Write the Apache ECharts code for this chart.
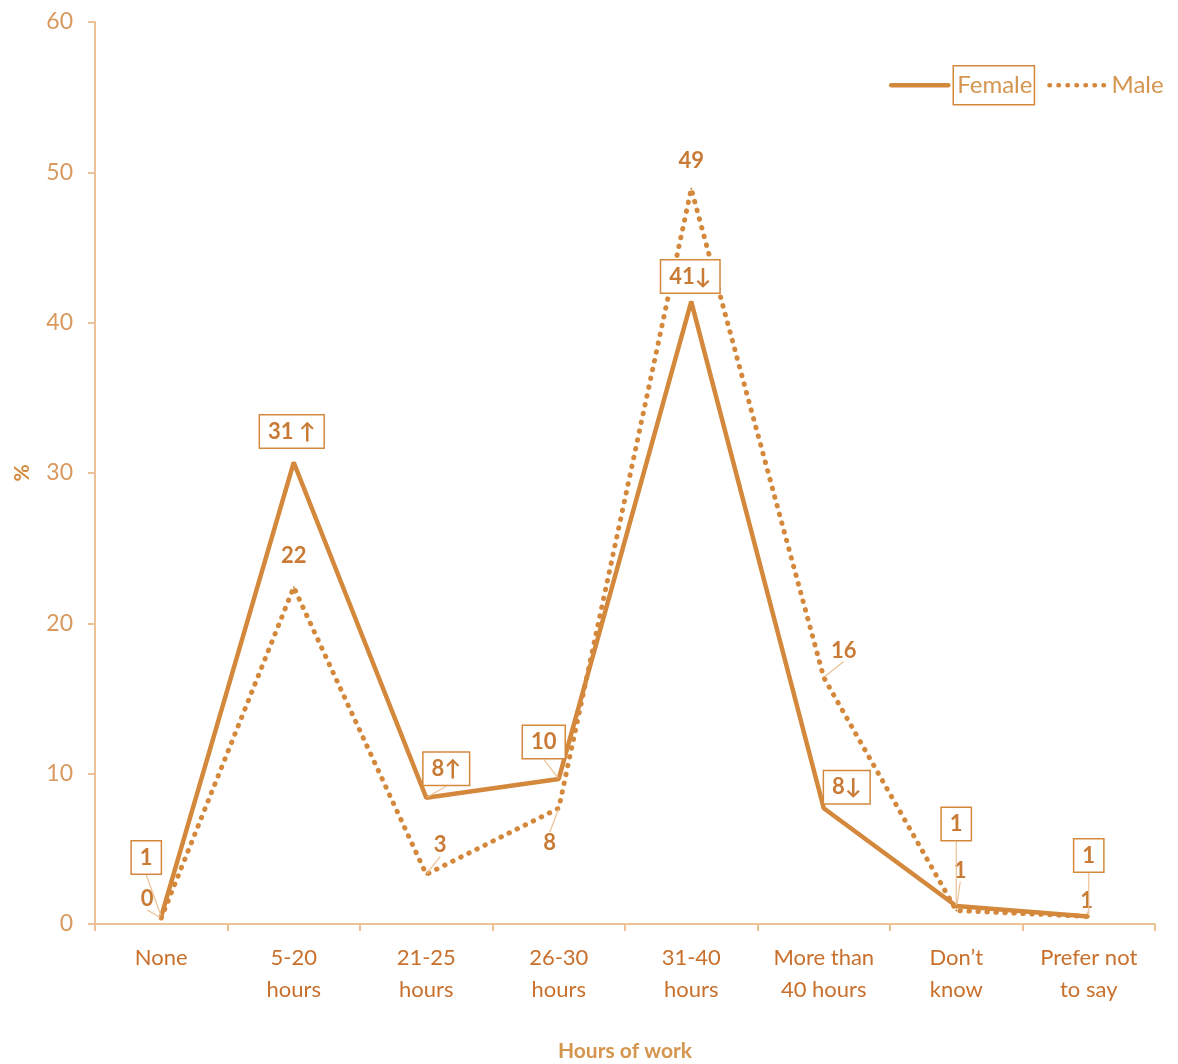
<!DOCTYPE html>
<html><head><meta charset="utf-8">
<script src="https://cdn.jsdelivr.net/npm/echarts@6/dist/echarts.min.js"></script>
<style>html,body{margin:0;padding:0;background:#fff}#c{width:1178px;height:1064px}</style>
</head><body><div id="c"></div>
<script>
const categories = ['None','5-20\nhours','21-25\nhours','26-30\nhours','31-40\nhours','More than\n40 hours','Don\u2019t\nknow','Prefer not\nto say'];
const female = [0.5, 30.7, 8.4, 9.65, 41.4, 7.7, 1.2, 0.5];
const male = [0.4, 22.4, 3.3, 7.7, 48.9, 16.4, 0.9, 0.5];
const femaleLabels = ['1','31 \u2191','8\u2191','10','41\u2193','8\u2193','1','1'];
const maleLabels = ['0','22','3','8','49','16','1','1'];
const yTicks = [0,10,20,30,40,50,60];

const LINE = '#D4883C';
const TXT = '#C97A35';
const AX = '#EBC196';

// label offsets and leader-line visibility (styling only)
const femaleOff = [[-15,-59],[-2,-31],[20,-29],[-15,-37],[-1,-25],[23,-21],[0,-82],[0,-61]];
const maleOff = [[-14,-19],[0,-31],[14,-29],[-9,35],[0,-28],[20,-27],[4,-40],[-2,-16]];
const femaleLead = [true,false,true,true,false,false,true,true];
const maleLead = [true,false,true,true,false,true,true,true];

const chart = echarts.init(document.getElementById('c'));
chart.setOption({
  animation: false,
  grid: {left: 95, right: 23, top: 22, bottom: 140, containLabel: false, outerBoundsMode: 'none'},
  legend: {
    left: 884, top: 60, itemWidth: 57, itemHeight: 14, itemGap: 12,
    itemStyle: {opacity: 0},
    lineStyle: {width: 4.5, cap: 'round'},
    textStyle: {color: '#D4954F', fontSize: 24, fontFamily: 'Lato'},
    data: [
      {name: 'Female', textStyle: {borderColor: LINE, borderWidth: 1.5, padding: [8, 2, 7, 4]}},
      {name: 'Male'}
    ]
  },
  xAxis: {
    type: 'category', data: categories, boundaryGap: true,
    name: 'Hours of work', nameLocation: 'middle', nameGap: 117,
    nameTextStyle: {color: '#D4954F', fontSize: 21, fontWeight: 'bold', fontFamily: 'Lato'},
    axisLine: {lineStyle: {color: AX, width: 2}},
    axisTick: {show: true, length: 7, lineStyle: {color: AX, width: 2}},
    axisLabel: {color: '#C8702C', fontSize: 22, lineHeight: 32, margin: 18, fontFamily: 'Lato', interval: 0}
  },
  yAxis: {
    type: 'value', min: 0, max: 60, interval: 10,
    name: '%', nameLocation: 'middle', nameGap: 62, nameRotate: 90,
    nameTextStyle: {color: LINE, fontSize: 21, fontWeight: 'bold', fontFamily: 'Lato'},
    axisLine: {show: true, lineStyle: {color: AX, width: 2}},
    axisTick: {show: true, length: 7, lineStyle: {color: AX, width: 2}},
    splitLine: {show: false},
    axisLabel: {color: '#D9995E', fontSize: 23, margin: 22, fontFamily: 'Lato',
      formatter: v => yTicks.indexOf(v) >= 0 ? String(v) : ''}
  },
  series: [
    {
      name: 'Female', type: 'line',
      data: female.map((v, i) => ({value: v, labelLine: {show: femaleLead[i]}})),
      symbol: 'circle', symbolSize: 2, itemStyle: {color: LINE},
      lineStyle: {color: LINE, width: 4.5},
      label: {show: true, position: 'inside', color: TXT, fontSize: 22, fontWeight: 'bold', fontFamily: 'Lato',
        formatter: p => femaleLabels[p.dataIndex],
        backgroundColor: '#fff', borderColor: LINE, borderWidth: 1.5, padding: [6, 8, 4, 8]},
      labelLine: {show: true, lineStyle: {color: AX, width: 1.2}},
      labelLayout: p => ({dx: femaleOff[p.dataIndex][0], dy: femaleOff[p.dataIndex][1]}),
      z: 3
    },
    {
      name: 'Male', type: 'line',
      data: male.map((v, i) => ({value: v, labelLine: {show: maleLead[i]}})),
      symbol: 'circle', symbolSize: 2, itemStyle: {color: LINE},
      lineStyle: {color: LINE, width: 5, type: [0.5, 8.5], cap: 'round'},
      label: {show: true, position: 'inside', color: TXT, fontSize: 22, fontWeight: 'bold', fontFamily: 'Lato',
        formatter: p => maleLabels[p.dataIndex]},
      labelLine: {show: true, lineStyle: {color: AX, width: 1.2}},
      labelLayout: p => ({dx: maleOff[p.dataIndex][0], dy: maleOff[p.dataIndex][1]}),
      z: 2
    }
  ]
});
</script></body></html>
